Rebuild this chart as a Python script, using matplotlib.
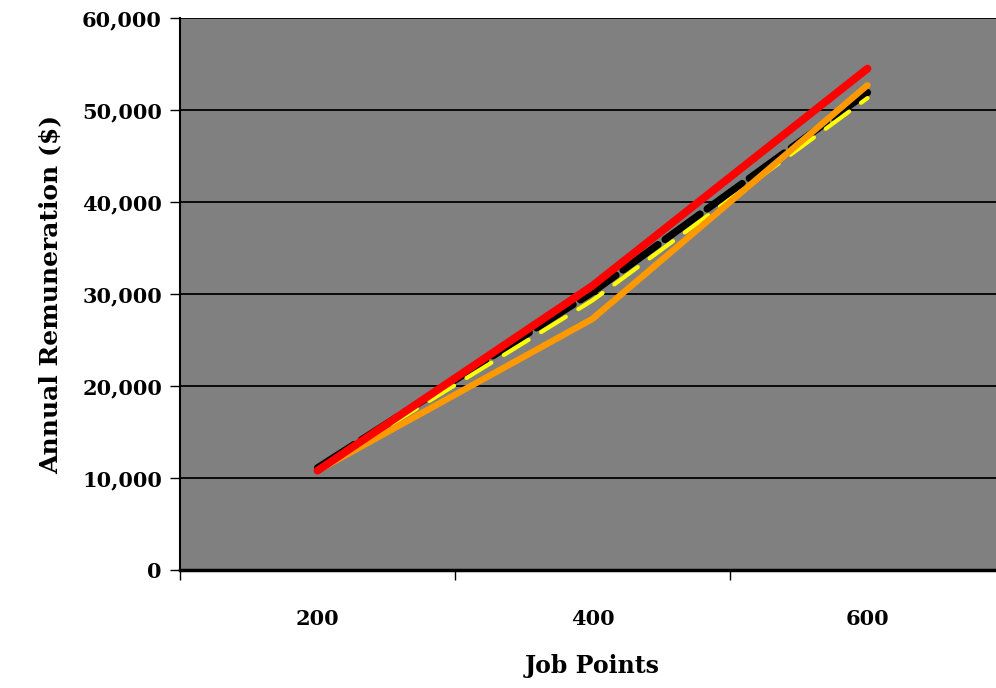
import numpy as np
import matplotlib
matplotlib.use("Agg")
from matplotlib import pyplot as plt
from matplotlib.ticker import FuncFormatter

# data
job_points = ["200", "400", "600"]
black_series = [11100, 30200, 51900]
yellow_series = [10900, 29300, 51300]
orange_series = [10800, 27300, 52700]
red_series = [10800, 30900, 54500]

plt.rcParams['font.family'] = ['DejaVu Serif']
plt.rcParams['font.weight'] = 'bold'

fig = plt.figure(figsize=(9.96, 6.88), dpi=100)
ax = fig.add_axes([180 / 996, 1 - 570 / 688, 825 / 996, 552 / 688])
ax.set_facecolor("#808080")

x = np.arange(len(job_points))

ax.plot(x, black_series, color="black", lw=5.2, dashes=(6, 1.2),
        solid_capstyle="round", dash_capstyle="round", zorder=3)
ax.plot(x, yellow_series, color="#ffff00", lw=3.0, dashes=(7, 3.5),
        dash_capstyle="round", zorder=4)
ax.plot(x, orange_series, color="#ff9900", lw=4.6,
        solid_capstyle="round", zorder=5)
ax.plot(x, red_series, color="#ff0000", lw=5.6,
        solid_capstyle="round", zorder=6)

ax.set_xlim(-0.5, 2.5)
ax.set_ylim(0, 60000)
ax.set_yticks(np.arange(0, 60001, 10000))
ax.yaxis.set_major_formatter(FuncFormatter(lambda v, p: f"{int(v):,}"))
ax.grid(axis="y", color="black", lw=1.3, zorder=1)
ax.set_axisbelow(True)

# category axis: boundary ticks, centered labels
ax.set_xticks([-0.5, 0.5, 1.5])
ax.set_xticklabels([])
ax.set_xticks(x, minor=True)
ax.set_xticklabels(job_points, minor=True)
ax.tick_params(axis="x", which="minor", length=0, pad=28, labelsize=15)
ax.tick_params(axis="x", which="major", direction="out", length=7, width=1)
ax.tick_params(axis="y", direction="out", length=7, width=1, labelsize=15, pad=6)

for s in ["top", "right"]:
    ax.spines[s].set_visible(False)
ax.spines["left"].set_linewidth(1.5)
ax.spines["bottom"].set_linewidth(2.5)

ax.set_xlabel("Job Points", fontsize=17, fontweight="bold", labelpad=18)
ax.set_ylabel("Annual Remuneration ($)", fontsize=18, fontweight="bold", labelpad=14)

fig.savefig("out.png", dpi=100)
